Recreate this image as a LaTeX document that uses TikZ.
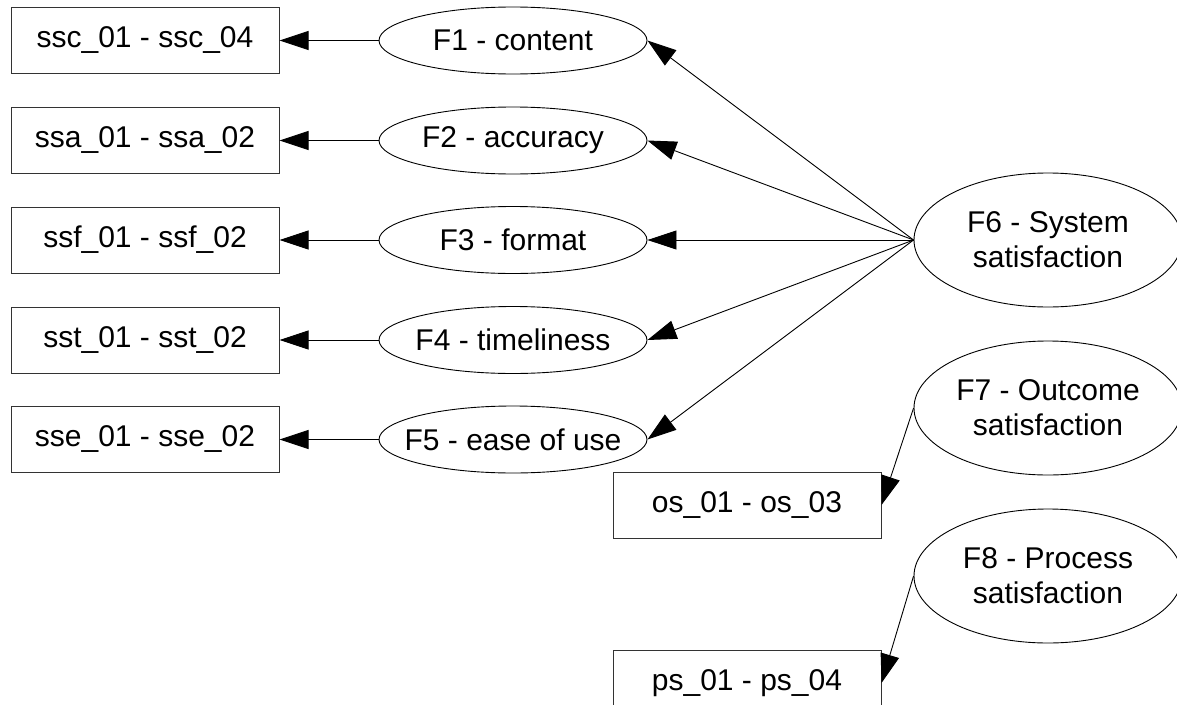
\documentclass[tikz,border=0pt]{standalone}
\usepackage{fontspec}
\setmainfont{Liberation Sans}
\usetikzlibrary{shapes.geometric,arrows.meta}
\begin{document}
\begin{tikzpicture}[x=1pt,y=-1pt,
  txt/.style={font=\fontsize{30}{35}\selectfont, align=center},
  item/.style={draw=black!80, fill=white, line width=1pt, minimum width=268pt, minimum height=66pt, inner sep=0pt, txt},
  factor/.style={draw=black, fill=white, ellipse, line width=0.9pt, minimum width=268pt, minimum height=67pt, inner sep=0pt},
  bigfactor/.style={factor, minimum height=134pt},
  link/.style={line width=0.9pt, -{Triangle[length=29pt,width=19pt]}}
]
\useasboundingbox (0,0) rectangle (1177,704);
\clip (0,0) rectangle (1177,704);
\fill[white] (0,0) rectangle (1177,704);

% indicator boxes
\node[item] (b1) at (145,40.5) {ssc\_01 - ssc\_04};
\node[item] (b2) at (145,140.5) {ssa\_01 - ssa\_02};
\node[item] (b3) at (145,240) {ssf\_01 - ssf\_02};
\node[item] (b4) at (145,340) {sst\_01 - sst\_02};
\node[item] (b5) at (145,439.5) {sse\_01 - sse\_02};
\node[item] (os) at (747,505) {os\_01 - os\_03};
\node[item] (ps) at (747,683) {ps\_01 - ps\_04};

% factors
\node[factor, label={[txt]center:F1 - content}] (f1) at (513,40.5) {};
\node[factor, label={[txt]center:F2 - accuracy}] (f2) at (513,140.5) {};
\node[factor, label={[txt]center:F3 - format}] (f3) at (513,240) {};
\node[factor, label={[txt]center:F4 - timeliness}] (f4) at (513,340) {};
\node[factor, label={[txt]center:F5 - ease of use}] (f5) at (513,439.5) {};
\node[bigfactor, label={[txt]center:{F6 - System\\satisfaction}}] (f6) at (1048,240) {};
\node[bigfactor, label={[txt]center:{F7 - Outcome\\satisfaction}}] (f7) at (1048,408) {};
\node[bigfactor, label={[txt]center:{F8 - Process\\satisfaction}}] (f8) at (1048,576) {};

% connectors
\draw[link] (f1.west) -- (b1.east);
\draw[link] (f2.west) -- (b2.east);
\draw[link] (f3.west) -- (b3.east);
\draw[link] (f4.west) -- (b4.east);
\draw[link] (f5.west) -- (b5.east);
\draw[link] (f6.west) -- (f1.east);
\draw[link] (f6.west) -- (f2.east);
\draw[link] (f6.west) -- (f3.east);
\draw[link] (f6.west) -- (f4.east);
\draw[link] (f6.west) -- (f5.east);
\draw[link] (f7.west) -- (os.east);
\draw[link] (f8.west) -- (ps.east);
\end{tikzpicture}
\end{document}
